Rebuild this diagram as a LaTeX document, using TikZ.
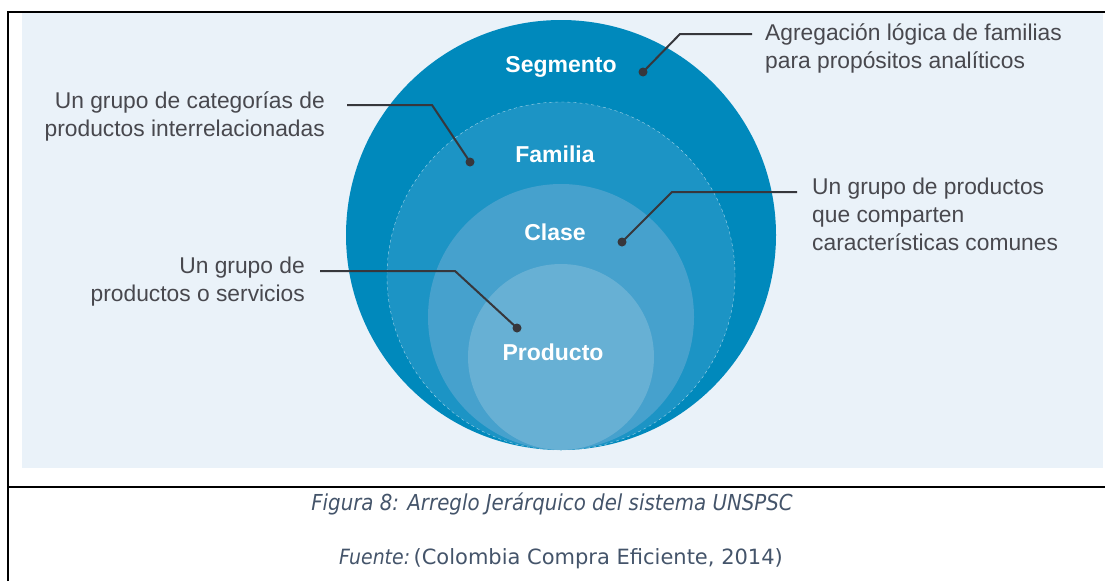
\documentclass[tikz,border=0pt]{standalone}
\usepackage{fontspec}
\setmainfont{Liberation Sans}
\newfontfamily\capfont{DejaVu Sans Condensed}
\newfontfamily\capwide{DejaVu Sans}
\usetikzlibrary{positioning}
\definecolor{segcol}{RGB}{0,137,188}
\definecolor{famcol}{RGB}{28,148,197}
\definecolor{clacol}{RGB}{70,161,205}
\definecolor{procol}{RGB}{103,176,212}
\definecolor{bgcol}{RGB}{234,242,249}
\definecolor{txtcol}{RGB}{72,72,78}
\definecolor{leadcol}{RGB}{55,55,60}
\definecolor{capcol}{RGB}{68,84,106}

\begin{document}
\begin{tikzpicture}[x=1pt, y=-1pt,
    level/.style={circle, inner sep=0pt, minimum size=#1},
    lvlname/.style={text=white, font=\fontsize{23}{27}\selectfont\bfseries},
    desc/.style={text=txtcol, inner sep=0pt, font=\fontsize{22.8}{28}\selectfont},
    lead/.style={draw=leadcol, line width=2pt},
    pin/.style={circle, fill=leadcol, inner sep=0pt, minimum size=9pt},
    caption/.style={text=capcol, font=\capfont\fontsize{22}{26}\selectfont}]
    
    \useasboundingbox (0,0) rectangle (1105,581);
    \fill[bgcol] (22,13) rectangle (1103,468);
    \draw[line width=1.5pt] (8,581) -- (8,12) -- (1105,12);
    \draw[line width=1.5pt] (8,487) -- (1105,487);
    
    \node[level=430pt, fill=segcol] (seg) at (561,235) {};
    \node[level=348pt, fill=famcol, draw=white!60!famcol, dashed, thin] (fam) at (561,276) {};
    \node[level=266pt, fill=clacol] (cla) at (561,317) {};
    \node[level=186pt, fill=procol] (pro) at (561,357) {};
    
    \node[lvlname] (segl) at (561,67) {Segmento};
    \node[lvlname] (faml) at (555,154) {Familia};
    \node[lvlname] (clal) at (555,232) {Clase};
    \node[lvlname] (prol) at (553,352) {Producto};
    
    \node[desc, anchor=west, align=left] (segd) at (765,48) {Agregación lógica de familias\\para propósitos analíticos};
    \node[desc, anchor=east, align=right] (famd) at (325,116) {Un grupo de categorías de\\productos interrelacionadas};
    \node[desc, anchor=west, align=left] (clad) at (812,214) {Un grupo de productos\\que comparten\\características comunes};
    \node[desc, anchor=east, align=right] (prod) at (305,282) {Un grupo de\\productos o servicios};
    
    \node[pin] (segp) at (643,72) {};
    \node[pin] (famp) at (470,162) {};
    \node[pin] (clap) at (622,242) {};
    \node[pin] (prop) at (517,328) {};
    
    \coordinate (sege) at (680,34);
    \coordinate (fame) at (432,105);
    \coordinate (clae) at (672,192);
    \coordinate (proe) at (455,271);
    
    \coordinate (segt) at (752,34);
    \coordinate (famt) at (347,105);
    \coordinate (clat) at (797,192);
    \coordinate (prot) at (320,271);
    
    \draw[lead] (segp.center) -- (sege) -- (segt);
    \draw[lead] (famp.center) -- (fame) -- (famt);
    \draw[lead] (clap.center) -- (clae) -- (clat);
    \draw[lead] (prop.center) -- (proe) -- (prot);
    
    \node[caption] (cap1) at (552,504) {\itshape Figura 8: Arreglo Jerárquico del sistema UNSPSC};
    \node[caption, font=\capfont\fontsize{21}{25}\selectfont] (cap2) at (561,559) {{\itshape Fuente:}\,{\capwide(Colombia Compra Eficiente, 2014)}};
\end{tikzpicture}
\end{document}
